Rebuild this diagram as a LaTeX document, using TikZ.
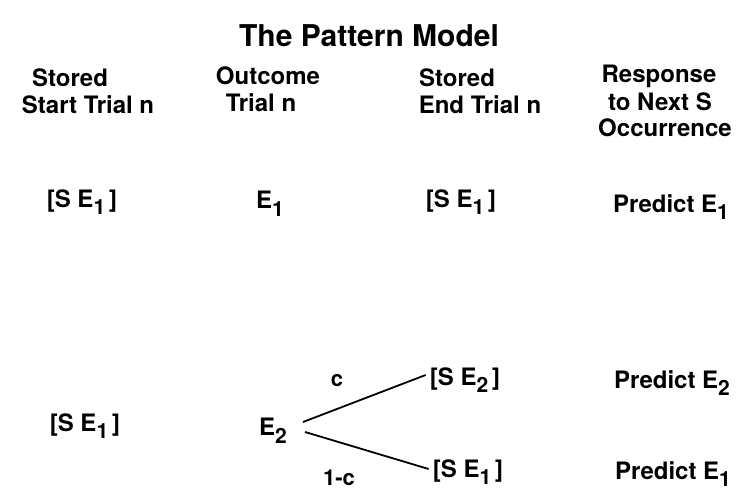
\documentclass[tikz,border=0pt]{standalone}
\usepackage{fontspec}
\setmainfont{TeX Gyre Heros}
\newcommand{\sbs}[1]{\raisebox{-0.32em}{\fontsize{21}{21}\selectfont #1}}
\begin{document}
\begin{tikzpicture}[x=1pt,y=-1pt,
  title/.style={font=\fontsize{30}{30}\selectfont\bfseries, inner sep=0pt},
  head/.style={font=\fontsize{24}{24}\selectfont\bfseries, inner sep=0pt},
  cell/.style={font=\fontsize{24}{24}\selectfont\bfseries, inner sep=0pt},
  lbl/.style={font=\fontsize{22}{22}\selectfont\bfseries, inner sep=0pt},
  conn/.style={line width=1.8pt}]
\useasboundingbox (0,0) rectangle (737,492);
\node[title] (t) at (369,36) {The Pattern Model};
% headers
\node[head] (h1a) at (70,78) {Stored};
\node[head] (h1b) at (88,105) {Start Trial n};
\node[head] (h2a) at (268,76) {Outcome};
\node[head] (h2b) at (261,103) {Trial n};
\node[head] (h3a) at (457,78) {Stored};
\node[head] (h3b) at (480,105) {End Trial n};
\node[head] (h4a) at (659,76) {Response};
\node[head] (h4b) at (660,102) {to Next S};
\node[head] (h4c) at (665,128) {Occurrence};
% row 1
\node[cell] (r1a) at (82,202) {[S E\sbs{1}\,]};
\node[cell] (r1b) at (270,204) {E\sbs{1}};
\node[cell] (r1c) at (461,202) {[S E\sbs{1}\,]};
\node[cell] (r1d) at (671,207) {Predict E\sbs{1}};
% row 2
\node[cell] (r2a) at (85,426) {[S E\sbs{1}\,]};
\node[cell] (e2) at (273,431) {E\sbs{2}};
\node[cell] (se2) at (465,380) {[S E\sbs{2}\,]};
\node[cell] (se1) at (468,472) {[S E\sbs{1}\,]};
\node[cell] (p2) at (672,383) {Predict E\sbs{2}};
\node[cell] (p1) at (673,474) {Predict E\sbs{1}};
\node[lbl] (c) at (337,381) {c};
\node[lbl] (omc) at (339,478) {1-c};
\draw[conn] ([xshift=16pt,yshift=9pt]e2.east) -- ([xshift=-4pt,yshift=5pt]se2.west);
\draw[conn] ([xshift=18pt,yshift=-1pt]e2.east) -- ([xshift=-4pt,yshift=3pt]se1.west);
\end{tikzpicture}
\end{document}
